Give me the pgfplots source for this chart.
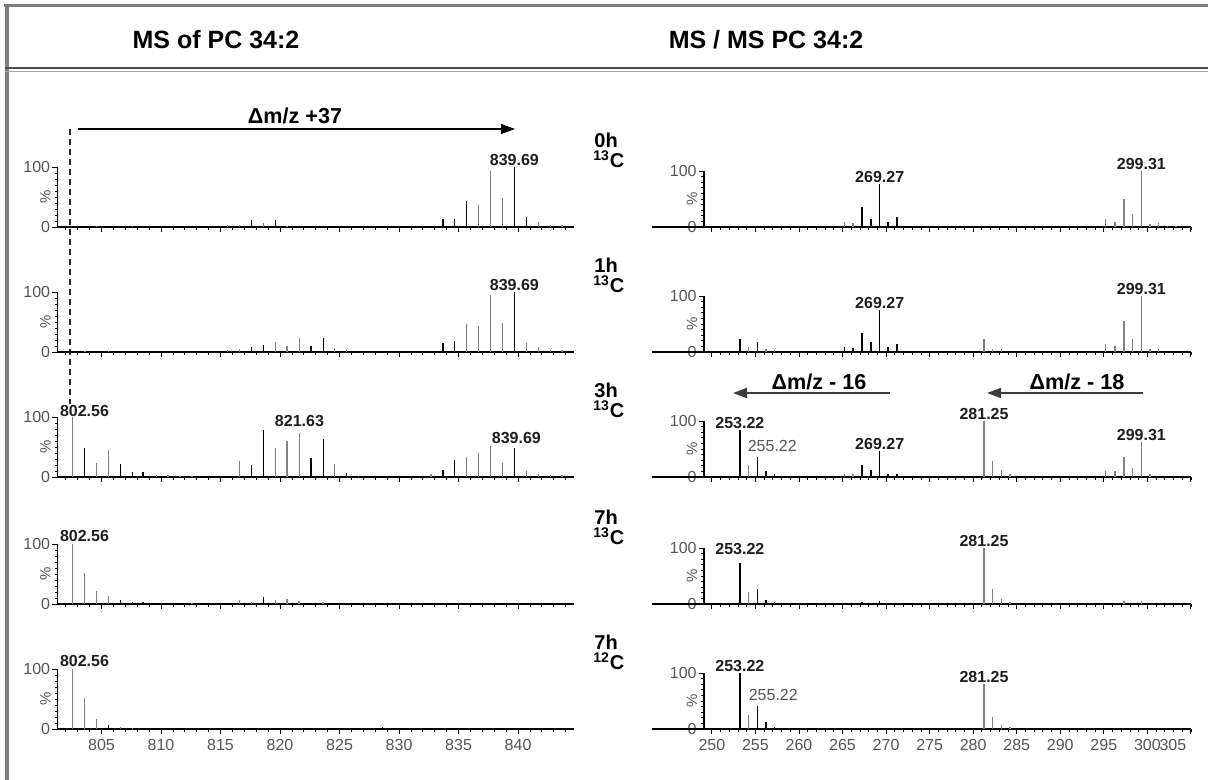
\documentclass[border=0pt]{standalone}
\usepackage{fontspec}
\setmainfont{Liberation Sans}
\usepackage{pgfplots}
\pgfplotsset{compat=1.18}
\usetikzlibrary{arrows.meta}
\definecolor{barg}{RGB}{128,128,128}
\definecolor{tickg}{RGB}{85,85,85}
\definecolor{frameg}{RGB}{125,125,125}
\definecolor{peakc}{RGB}{30,30,30}
\definecolor{arrg}{RGB}{60,60,60}

\tikzset{
 pk/.style={font=\bfseries\fontsize{8}{9}\selectfont, anchor=south, inner sep=0pt, yshift=0.5pt, text=peakc},
 pr/.style={font=\fontsize{8}{9}\selectfont, anchor=south, inner sep=0pt, yshift=2.5pt, text=tickg},
}
\pgfplotsset{
 ms/.style={
  scale only axis, anchor=south west, clip=false,
  axis lines=left, axis line style={-, line width=0.55pt, black},
  ymin=0, ymax=100, ytick={0,100}, minor ytick={10,20,...,90},
  tick align=outside, major tick length=2.5pt, minor tick length=1.3pt,
  every tick/.style={black, line width=0.45pt},
  every minor tick/.style={black, line width=0.4pt},
  /pgf/number format/assume math mode=true,
  yticklabel style={font=\fontsize{8}{9}\selectfont, text=tickg, inner sep=1pt},
  xticklabel style={font=\fontsize{8}{9}\selectfont, text=tickg, inner sep=1pt, yshift=-1.5pt},
  xticklabels={},
  ylabel={\%},
  every axis y label/.style={at={(axis description cs:0,0.5)}, rotate=90, anchor=center, yshift=6pt, font=\fontsize{7.5}{8}\selectfont, text=tickg},
 },
 L/.style={ms, width=258.25pt, height=30pt, xmin=801.3, xmax=844.7, xtick={805,810,...,840}, minor xtick={802,...,844}},
 R/.style={ms, width=243.45pt, height=28pt, xmin=249.1, xmax=305, xtick={250,255,...,300}, minor xtick={250,...,305}, extra x ticks={305}, extra x tick labels={}},
 bk/.style={ycomb, black, line width=0.7pt, mark=none},
 gy/.style={ycomb, barg, line width=0.7pt, mark=none},
}

\begin{document}
\begin{tikzpicture}
\useasboundingbox (0,0) rectangle (604pt,-390pt);

% ---------------- LEFT COLUMN ----------------
\begin{axis}[L, at={(28.75pt,-113.5pt)}]
\addplot[bk] coordinates {(817.6,11) (819.6,11) (833.68,14) (834.68,14) (835.66,44) (839.69,100) (840.70,16)};
\addplot[gy] coordinates {(804.6,1.5) (807.6,1.5) (815.6,4) (816.6,4) (818.6,6) (820.6,2) (836.67,36) (837.66,93) (838.68,49) (841.7,8) (842.7,4) (843.7,3)};
\node[pk] at (axis cs:839.69,100) {839.69};
\end{axis}

\begin{axis}[L, at={(28.75pt,-176pt)}]
\addplot[bk] coordinates {(817.6,9) (818.6,11) (822.6,10) (823.63,24) (833.68,15) (834.68,18) (839.69,100)};
\addplot[gy] coordinates {(803.6,1.5) (805.6,1.5) (815.6,3) (816.6,5) (819.6,17.5) (820.6,10) (821.63,24) (824.6,6) (825.6,3) (835.66,47) (836.67,43.5) (837.66,95) (838.68,48.6) (840.7,15) (841.7,8) (842.7,4) (843.7,3)};
\node[pk] at (axis cs:839.69,100) {839.69};
\end{axis}

\begin{axis}[L, at={(28.75pt,-238.5pt)}]
\addplot[bk] coordinates {(803.57,47.6) (806.58,22) (807.59,8.6) (808.5,8) (817.6,20.5) (818.6,78) (822.6,31) (823.63,63) (825.6,6) (833.68,11) (834.68,28) (839.69,48.6)};
\addplot[gy] coordinates {(802.56,100) (804.57,23) (805.58,45) (809.6,3) (810.6,3) (811.6,1.5) (812.6,1.5) (816.6,26) (819.6,48.6) (820.6,59.5) (821.63,74) (824.6,21.6) (826.6,2) (832.7,5.4) (835.66,33.5) (836.67,39.5) (837.66,51) (838.68,24) (840.7,10) (841.7,5) (842.7,3) (843.7,3)};
\node[pk, xshift=6pt, yshift=-0.5pt] at (axis cs:802.56,100) {802.56};
\node[pk, yshift=2.5pt] at (axis cs:821.63,74) {821.63};
\node[pk, xshift=1pt, yshift=1.5pt] at (axis cs:839.69,48.6) {839.69};
\end{axis}

\begin{axis}[L, at={(28.75pt,-302pt)}]
\addplot[bk] coordinates {(806.58,7) (807.59,3) (808.5,3) (818.6,11.5)};
\addplot[gy] coordinates {(802.56,100) (803.57,52) (804.57,21) (805.58,12.6) (812.6,1) (816.6,6) (817.6,4) (819.6,7) (820.6,8) (821.6,5) (823.6,3)};
\node[pk, xshift=6pt, yshift=0.5pt] at (axis cs:802.56,100) {802.56};
\end{axis}

\begin{axis}[L, at={(28.75pt,-364.5pt)}, xticklabels={805,810,815,820,825,830,835,840}]
\addplot[bk] coordinates {(805.58,7) (828.6,3)};
\addplot[gy] coordinates {(802.56,100) (803.57,51) (804.57,16) (806.58,3) (807.59,2)};
\node[pk, xshift=6pt, yshift=0.5pt] at (axis cs:802.56,100) {802.56};
\end{axis}

% ---------------- RIGHT COLUMN ----------------
\begin{axis}[R, at={(352pt,-113.5pt)}]
\draw[line width=0.55pt] (axis cs:243.1,0) -- (axis cs:249.1,0);
\addplot[bk] coordinates {(267.25,35) (268.26,15) (269.27,77) (270.24,8.5) (271.25,18)};
\addplot[gy] coordinates {(265.2,8.5) (266.2,7) (295.2,13.5) (296.3,9.6) (297.3,50) (298.3,24) (299.31,100) (300.3,5.6) (301.3,7) (302.3,2) (303.3,2)};
\node[pk] at (axis cs:269.27,77) {269.27};
\node[pk] at (axis cs:299.31,100) {299.31};
\end{axis}

\begin{axis}[R, at={(352pt,-176pt)}]
\draw[line width=0.55pt] (axis cs:243.1,0) -- (axis cs:249.1,0);
\addplot[bk] coordinates {(253.22,24) (255.22,18) (265.2,8.5) (266.2,7) (267.25,34) (268.26,17) (269.27,75) (270.24,8.5) (271.25,15)};
\addplot[gy] coordinates {(254.2,8.5) (256.2,5) (257.2,3) (281.25,24) (282.25,6) (283.25,5) (295.2,14) (296.3,11) (297.3,55) (298.3,24) (299.31,100) (300.3,5) (301.3,5)};
\node[pk] at (axis cs:269.27,75) {269.27};
\node[pk] at (axis cs:299.31,100) {299.31};
\end{axis}

\begin{axis}[R, at={(352pt,-238.5pt)}]
\draw[line width=0.55pt] (axis cs:243.1,0) -- (axis cs:249.1,0);
\addplot[bk] coordinates {(253.22,84) (255.22,35) (256.2,11) (257.2,6) (267.25,21) (268.26,12) (269.27,47) (270.24,6) (271.25,4.5)};
\addplot[gy] coordinates {(254.2,21) (265.2,6) (266.2,4.5) (281.25,100) (282.25,28) (283.25,13) (284.25,5.6) (295.2,11) (296.3,10) (297.3,36.5) (298.3,16) (299.31,62) (300.3,5.6)};
\node[pk] at (axis cs:253.22,84) {253.22};
\node[pr, xshift=7.5pt] at (axis cs:255.22,35) {255.22};
\node[pk] at (axis cs:269.27,47) {269.27};
\node[pk] at (axis cs:281.25,100) {281.25};
\node[pk] at (axis cs:299.31,62) {299.31};
\end{axis}

\begin{axis}[R, at={(352pt,-302pt)}]
\draw[line width=0.55pt] (axis cs:243.1,0) -- (axis cs:249.1,0);
\addplot[bk] coordinates {(253.22,74) (255.22,27) (256.2,7) (257.2,3.4) (267.25,3.4) (269.27,6)};
\addplot[gy] coordinates {(254.2,21) (281.25,100) (282.25,27) (283.25,9.5) (284.25,3.4) (297.3,4.5) (299.31,6)};
\node[pk, yshift=3pt] at (axis cs:253.22,74) {253.22};
\node[pk] at (axis cs:281.25,100) {281.25};
\end{axis}

\begin{axis}[R, at={(352pt,-364.5pt)}, xticklabels={250,255,260,265,270,275,280,285,290,295,300}, extra x tick labels={305}, extra x tick style={xticklabel style={xshift=-9pt}}]
\draw[line width=0.55pt] (axis cs:243.1,0) -- (axis cs:249.1,0);
\addplot[bk] coordinates {(253.22,100) (255.22,41.7) (256.2,12.8) (257.2,4.4)};
\addplot[gy] coordinates {(254.2,25.5) (281.25,81) (282.25,22) (283.25,7) (284.25,3)};
\node[pk] at (axis cs:253.22,100) {253.22};
\node[pr, xshift=8pt] at (axis cs:255.22,41.7) {255.22};
\node[pk] at (axis cs:281.25,81) {281.25};
\end{axis}

% ---------------- annotations (px units, y down) ----------------
\begin{scope}[x=0.5pt, y=-0.5pt]
\draw[frameg, line width=1.5pt] (4,6) -- (1210,6);
\draw[frameg, line width=1.8pt] (7,6) -- (7,782);
\draw[black!70, line width=1.3pt] (5,68) -- (1210,68);
\draw[black!35, line width=0.8pt] (5,71.5) -- (1210,71.5);
\node[font=\bfseries\fontsize{12.5}{14}\selectfont] at (216,40) {MS of PC 34:2};
\node[font=\bfseries\fontsize{12.5}{14}\selectfont] at (766,40) {MS / MS PC 34:2};

\node[font=\bfseries\fontsize{10.8}{12}\selectfont] at (295,116) {Δm/z +37};
\draw[black, line width=0.7pt, -{Triangle[length=7pt,width=5pt]}] (78,129) -- (515,129);
\draw[black!85, line width=0.8pt, dash pattern=on 3pt off 2pt] (70,129) -- (70,404);

\node[font=\bfseries\fontsize{10.8}{12}\selectfont] at (819,382) {Δm/z - 16};
\draw[arrg, line width=1pt, {Triangle[length=7pt,width=5pt]}-] (733,393) -- (890,393);
\node[font=\bfseries\fontsize{10.8}{12}\selectfont] at (1077,382) {Δm/z - 18};
\draw[arrg, line width=1pt, {Triangle[length=7pt,width=5pt]}-] (987,393) -- (1143,393);

\foreach \yy/\hh/\cc in {140/0h/13, 265/1h/13, 390/3h/13, 517/7h/13, 642/7h/12} {
  \node[font=\bfseries\fontsize{10}{11}\selectfont, anchor=west, inner sep=0pt] at (594,\yy) {\hh};
  \node[font=\bfseries\fontsize{10}{11}\selectfont, anchor=west, inner sep=0pt] at (593,\yy+19) {\textsuperscript{\cc}C};
}
\end{scope}
\end{tikzpicture}
\end{document}
